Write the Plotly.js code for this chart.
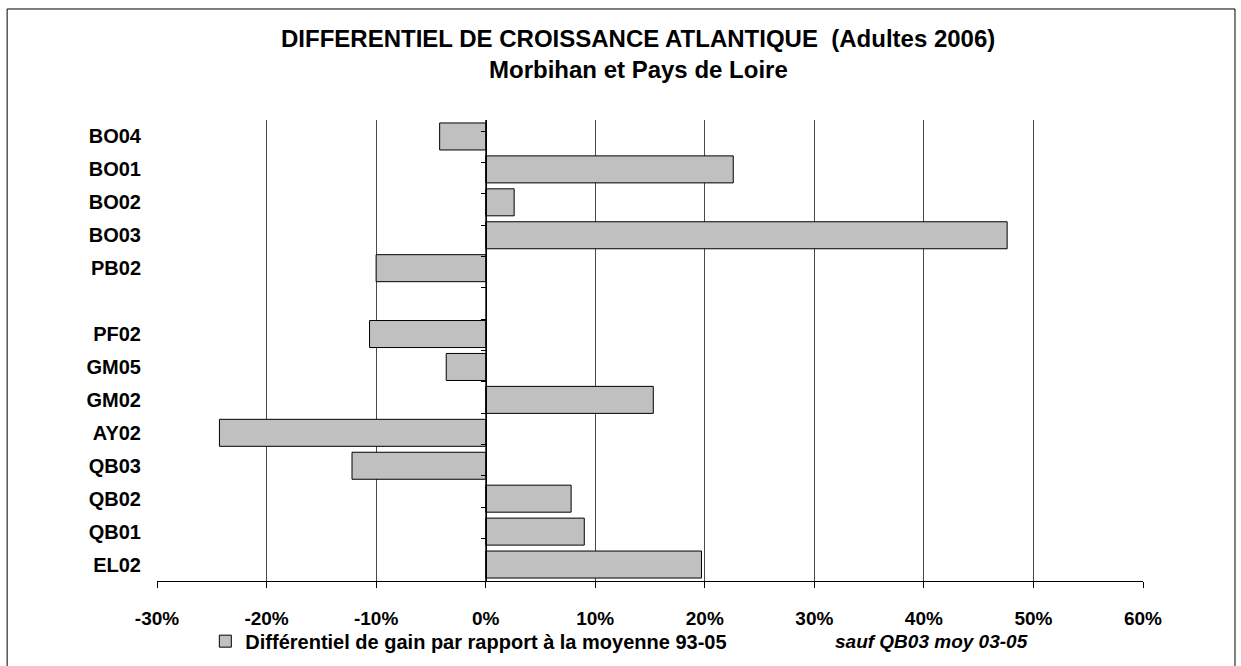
<!DOCTYPE html>
<html>
<head>
<meta charset="utf-8">
<script src="https://cdn.plot.ly/plotly-3.0.1.min.js"></script>
<style>
html,body{margin:0;padding:0;background:#fff;}
#chart{width:1241px;height:666px;}
</style>
</head>
<body>
<div id="chart"></div>
<script>
// Categories, top to bottom (the blank slot is a gap in the original)
const categories = ["BO04", "BO01", "BO02", "BO03", "PB02", " ", "PF02", "GM05", "GM02", "AY02", "QB03", "QB02", "QB01", "EL02"];
// Différentiel de gain (%)
const differentiel = [-4.2, 22.6, 2.6, 47.6, -10.0, null, -10.6, -3.6, 15.3, -24.3, -12.2, 7.8, 9.0, 19.7];
const xTickVals = [-30, -20, -10, 0, 10, 20, 30, 40, 50, 60];
const xTickText = ["-30%", "-20%", "-10%", "0%", "10%", "20%", "30%", "40%", "50%", "60%"];
const seriesName = "Différentiel de gain par rapport à la moyenne 93-05";
const noteText = "sauf QB03 moy 03-05";
const titleLine1 = "DIFFERENTIEL DE CROISSANCE ATLANTIQUE \u00a0(Adultes 2006)";
const titleLine2 = "Morbihan et Pays de Loire";

const FONT = "Liberation Sans, Arial, sans-serif";

const traces = [
  {
    type: "bar",
    orientation: "h",
    x: differentiel,
    y: categories,
    name: seriesName,
    marker: {color: "#c0c0c0", line: {color: "#000", width: 1}},
    hoverinfo: "x+y",
    showlegend: true
  },
  {
    type: "scatter",
    mode: "markers",
    x: differentiel,
    y: categories,
    yaxis: "y2",
    marker: {opacity: 0},
    hoverinfo: "skip",
    showlegend: false
  }
];

const layout = {
  width: 1241,
  height: 666,
  margin: {l: 157, r: 98, t: 120, b: 85, pad: 0, autoexpand: false},
  paper_bgcolor: "#fff",
  plot_bgcolor: "#fff",
  font: {family: FONT, color: "#000", size: 19},
  title: {
    text: "<b>" + titleLine1 + "</b>",
    font: {family: FONT, size: 24, color: "#000"},
    x: 0.488, xref: "paper", xanchor: "center",
    y: 0.9414, yref: "container", yanchor: "middle"
  },
  bargap: 0.18,
  xaxis: {
    range: [-30, 60],
    tickvals: xTickVals,
    ticktext: xTickText,
    showgrid: true,
    gridcolor: "#4a4a4a",
    gridwidth: 1,
    zeroline: false,
    showline: true,
    linecolor: "#000",
    linewidth: 1,
    ticks: "outside",
    ticklen: 6,
    tickcolor: "#000",
    ticklabelstandoff: 14,
    tickfont: {family: FONT, size: 19, color: "#000", weight: "bold"},
    fixedrange: true
  },
  yaxis: {
    type: "category",
    categoryorder: "array",
    categoryarray: categories,
    autorange: "reversed",
    showgrid: false,
    zeroline: false,
    showline: false,
    ticks: "",
    ticklabelstandoff: 15,
    tickfont: {family: FONT, size: 20, color: "#000", weight: "bold"},
    fixedrange: true
  },
  yaxis2: {
    type: "category",
    categoryorder: "array",
    categoryarray: categories,
    autorange: "reversed",
    overlaying: "y",
    anchor: "free",
    position: 1/3,
    side: "left",
    showgrid: false,
    zeroline: false,
    showline: true,
    linecolor: "#000",
    linewidth: 1,
    ticks: "outside",
    ticklen: 5,
    tickcolor: "#000",
    tickson: "boundaries",
    showticklabels: false,
    fixedrange: true
  },
  showlegend: true,
  legend: {
    orientation: "h",
    x: 0.049, xanchor: "left",
    y: -0.1305, yanchor: "middle",
    font: {family: FONT, size: 20, color: "#000", weight: "bold"},
    bgcolor: "rgba(0,0,0,0)",
    borderwidth: 0
  },
  annotations: [
    {
      text: "<b>" + titleLine2 + "</b>",
      xref: "paper", yref: "paper",
      x: 0.488, y: 1.1106,
      xanchor: "center", yanchor: "middle",
      showarrow: false,
      font: {family: FONT, size: 24, color: "#000"}
    },
    {
      text: "<b><i>" + noteText + "</i></b>",
      xref: "paper", yref: "paper",
      x: 0.786, y: -0.1305,
      xanchor: "center", yanchor: "middle",
      showarrow: false,
      font: {family: FONT, size: 19, color: "#000"}
    }
  ],
  shapes: [
    {
      type: "rect", xref: "paper", yref: "paper",
      x0: -0.152, x1: 1.0933, y0: -0.2, y1: 1.2408,
      line: {color: "#000", width: 1},
      fillcolor: "rgba(0,0,0,0)",
      layer: "below"
    }
  ]
};

Plotly.newPlot("chart", traces, layout, {displayModeBar: false, staticPlot: true});
</script>
</body>
</html>
